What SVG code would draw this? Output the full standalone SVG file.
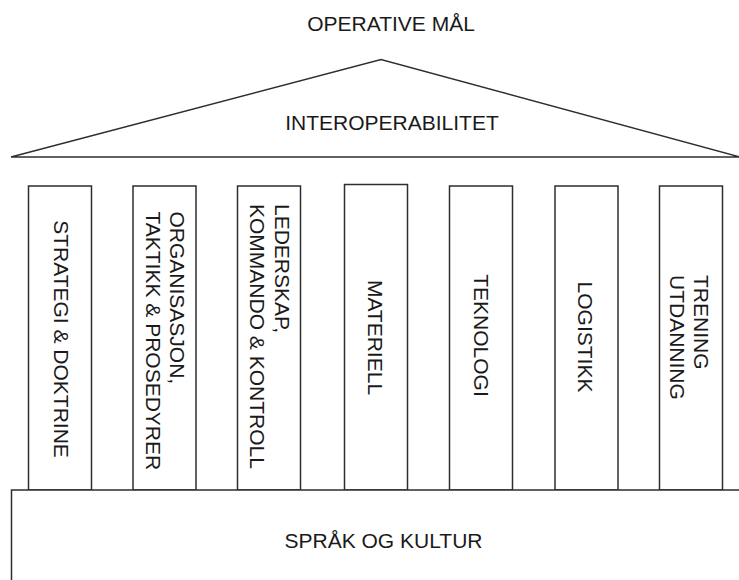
<svg xmlns="http://www.w3.org/2000/svg" width="739" height="580" viewBox="0 0 739 580">
  <style>
    .frame { fill: #ffffff; stroke: #2e2e2e; stroke-width: 1.5; }
    .label { font-family: "Liberation Sans", Arial, sans-serif; font-size: 21px; fill: #1a1a1a; }
    .mid { text-anchor: middle; }
  </style>
  <rect width="739" height="580" fill="#ffffff"/>

  <!-- top caption -->
  <g id="operative-maal">
    <text class="label mid" x="391" y="31">OPERATIVE MÅL</text>
  </g>

  <!-- roof -->
  <g id="interoperabilitet">
    <polygon class="frame" points="11,157 381,59.5 740,157"/>
    <text class="label mid" x="392" y="130">INTEROPERABILITET</text>
  </g>

  <!-- pillars, labels run top-to-bottom -->
  <g id="strategi">
    <rect class="frame" x="28.5" y="186" width="63" height="304"/>
    <text class="label mid" transform="translate(53.5,339) rotate(90)">STRATEGI &amp; DOKTRINE</text>
  </g>

  <g id="organisasjon">
    <rect class="frame" x="133" y="186" width="63" height="304"/>
    <text class="label" transform="translate(169.5,211.5) rotate(90)">ORGANISASJON,</text>
    <text class="label" transform="translate(145.5,211.5) rotate(90)">TAKTIKK &amp; PROSEDYRER</text>
  </g>

  <g id="lederskap">
    <rect class="frame" x="237.5" y="186" width="63" height="304"/>
    <text class="label" transform="translate(274.5,204) rotate(90)">LEDERSKAP,</text>
    <text class="label" transform="translate(249.5,204) rotate(90)">KOMMANDO &amp; KONTROLL</text>
  </g>

  <g id="materiell">
    <rect class="frame" x="344.5" y="184.5" width="63" height="305.5"/>
    <text class="label mid" transform="translate(367.5,337.5) rotate(90)">MATERIELL</text>
  </g>

  <g id="teknologi">
    <rect class="frame" x="449.5" y="186" width="63" height="304"/>
    <text class="label mid" transform="translate(473.5,335.5) rotate(90)">TEKNOLOGI</text>
  </g>

  <g id="logistikk">
    <rect class="frame" x="555" y="186" width="63" height="304"/>
    <text class="label mid" transform="translate(578,337) rotate(90)">LOGISTIKK</text>
  </g>

  <g id="trening">
    <rect class="frame" x="659.5" y="186" width="63" height="304"/>
    <text class="label" transform="translate(694,275) rotate(90)">TRENING</text>
    <text class="label" transform="translate(669.5,275) rotate(90)">UTDANNING</text>
  </g>

  <!-- foundation -->
  <g id="spraak-og-kultur">
    <rect class="frame" x="11.5" y="490" width="740" height="100"/>
    <text class="label mid" x="383.5" y="548">SPRÅK OG KULTUR</text>
  </g>
</svg>
